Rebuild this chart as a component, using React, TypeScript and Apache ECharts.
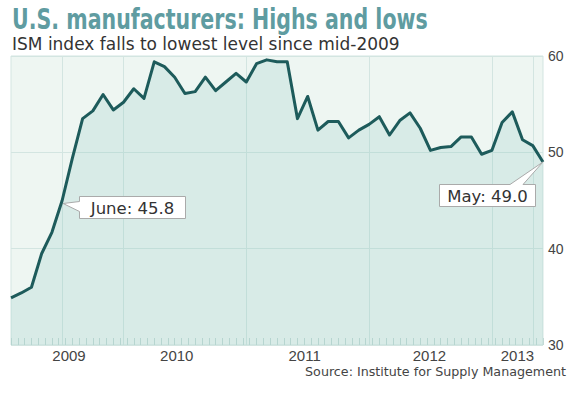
import React, { useEffect, useRef } from "react";
import * as echarts from "echarts";

// Monthly ISM index, Jan 2009 .. May 2013
const months: string[] = [
  "2009-01","2009-02","2009-03","2009-04","2009-05","2009-06","2009-07","2009-08","2009-09","2009-10","2009-11","2009-12",
  "2010-01","2010-02","2010-03","2010-04","2010-05","2010-06","2010-07","2010-08","2010-09","2010-10","2010-11","2010-12",
  "2011-01","2011-02","2011-03","2011-04","2011-05","2011-06","2011-07","2011-08","2011-09","2011-10","2011-11","2011-12",
  "2012-01","2012-02","2012-03","2012-04","2012-05","2012-06","2012-07","2012-08","2012-09","2012-10","2012-11","2012-12",
  "2013-01","2013-02","2013-03","2013-04","2013-05",
];
const ismValues: number[] = [
  34.9, 35.4, 36.0, 39.5, 41.7, 45.0, 49.4, 53.5, 54.3, 56.0, 54.4, 55.2,
  56.6, 55.6, 59.4, 58.9, 57.8, 56.1, 56.3, 57.8, 56.4, 57.3, 58.2, 57.3,
  59.2, 59.6, 59.4, 59.4, 53.5, 55.8, 52.3, 53.2, 53.2, 51.5, 52.3, 52.9,
  53.7, 51.8, 53.3, 54.1, 52.5, 50.2, 50.5, 50.6, 51.6, 51.6, 49.8, 50.2,
  53.1, 54.2, 51.3, 50.7, 49.0,
];
// Year tick labels and their positions (in month-index units along the axis)
const yearLabels: string[] = ["2009", "2010", "2011", "2012", "2013"];
const yearPositions: number[] = [5.67, 16.2, 28.7, 40.9, 49.5];
// Month indexes that carry vertical grid lines
const gridMonths: number[] = [5, 11, 23, 35, 47, 51];
const yTicks: number[] = [30, 40, 50, 60];

const callouts = [
  { index: 5, text: "June: 45.8" },
  { index: 52, text: "May: 49.0" },
];

const TITLE = "U.S. manufacturers: Highs and lows";
const SUBTITLE = "ISM index falls to lowest level since mid-2009";
const SOURCE = "Source: Institute for Supply Management";

const GRID_COLOR = "#d3e5e1";
const LABEL_FONT = "'Liberation Sans', Arial, sans-serif";
const VERDANA = "'DejaVu Sans', Verdana, sans-serif";
const TITLE_FONT = "bold 29px 'DejaVu Sans Condensed', 'DejaVu Sans', sans-serif";

function measure(text: string, font: string): number {
  const ctx = document.createElement("canvas").getContext("2d");
  if (!ctx) return 0;
  ctx.font = font;
  return ctx.measureText(text).width;
}

export default function App() {
  const ref = useRef<HTMLDivElement>(null);
  useEffect(() => {
    if (!ref.current) return;
    const chart = echarts.init(ref.current, undefined, { renderer: "svg" });
    const lastIdx = months.length - 1;
    chart.setOption({
      animation: false,
      grid: {
        left: 11,
        right: 26,
        top: 56,
        bottom: 53,
        show: true,
        backgroundColor: "#eef6f2",
        borderColor: GRID_COLOR,
        borderWidth: 1,
      },
      xAxis: [
        {
          type: "category",
          data: months,
          boundaryGap: false,
          axisLine: { show: false },
          axisTick: { show: false },
          axisLabel: { show: false },
          splitLine: {
            show: true,
            interval: (i: number) => gridMonths.includes(i),
            lineStyle: { color: GRID_COLOR, width: 1 },
          },
        },
        {
          type: "value",
          min: 0,
          max: lastIdx,
          interval: 2 / 3,
          position: "bottom",
          axisLine: { show: false },
          axisTick: { show: true, inside: true, length: 7, lineStyle: { color: "#c4dad6", width: 1 } },
          splitLine: { show: false },
          axisLabel: {
            show: true,
            customValues: yearPositions,
            margin: 3,
            fontFamily: LABEL_FONT,
            fontSize: 15,
            lineHeight: 15,
            color: "#444",
            formatter: (v: number) => {
              let best = 0;
              for (let i = 0; i < yearPositions.length; i++) {
                if (Math.abs(yearPositions[i] - v) < Math.abs(yearPositions[best] - v)) best = i;
              }
              return yearLabels[best];
            },
          },
        },
      ],
      yAxis: {
        type: "value",
        position: "right",
        min: yTicks[0],
        max: yTicks[yTicks.length - 1],
        interval: 10,
        axisLine: { show: false },
        axisTick: { show: false },
        axisLabel: { margin: 5, fontFamily: LABEL_FONT, fontSize: 14, color: "#444" },
        splitLine: { show: true, lineStyle: { color: GRID_COLOR, width: 1 } },
      },
      series: [
        {
          type: "line",
          xAxisIndex: 0,
          yAxisIndex: 0,
          data: ismValues,
          symbol: "none",
          lineStyle: { color: "#1d5b5b", width: 3, join: "round" },
          areaStyle: { color: "rgba(120,190,185,0.27)", origin: "start" },
        },
      ],
    });

    const graphics: any[] = [];
    // title, squeezed horizontally to the reference's condensed width
    const tw = measure(TITLE, TITLE_FONT) || 540;
    graphics.push({
      type: "text",
      x: 12,
      y: 4,
      scaleX: 416 / tw,
      style: { text: TITLE, font: TITLE_FONT, fill: "#5f9ca1", verticalAlign: "top" },
    });
    graphics.push({
      type: "text",
      x: 12,
      y: 35,
      style: { text: SUBTITLE, font: `17px ${VERDANA}`, fill: "#333", verticalAlign: "top" },
    });

    callouts.forEach((c) => {
      const [px, py] = chart.convertToPixel({ xAxisIndex: 0, yAxisIndex: 0 }, [c.index, ismValues[c.index]]) as number[];
      if (c.index === 5) {
        const bx = Math.round(px + 17) + 0.5;
        const by = Math.round(py - 5) + 0.5;
        const w = 106, h = 22;
        graphics.push({
          type: "polygon",
          shape: {
            points: [
              [bx, by], [bx + w, by], [bx + w, by + h], [bx, by + h],
              [bx, by + 15], [px + 1, py + 3], [bx, by + 5],
            ],
          },
          style: { fill: "#fff", stroke: "#aaa", lineWidth: 1 },
          z: 10,
        });
        graphics.push({
          type: "text",
          x: bx + w / 2,
          y: by + h / 2 + 1,
          style: { text: c.text, font: `16.5px ${VERDANA}`, fill: "#333", align: "center", verticalAlign: "middle" },
          z: 11,
        });
      } else {
        const w = 96, h = 22;
        const bx = Math.round(px - 104) + 0.5;
        const by = Math.round(py + 22) + 0.5;
        graphics.push({
          type: "polygon",
          shape: {
            points: [
              [bx, by], [px - 33, by], [px, py], [px - 20, by], [bx + w, by],
              [bx + w, by + h], [bx, by + h],
            ],
          },
          style: { fill: "#fff", stroke: "#aaa", lineWidth: 1 },
          z: 10,
        });
        graphics.push({
          type: "text",
          x: bx + w / 2,
          y: by + h / 2 + 1,
          style: { text: c.text, font: `16.5px ${VERDANA}`, fill: "#333", align: "center", verticalAlign: "middle" },
          z: 11,
        });
      }
    });
    graphics.push({
      type: "text",
      right: 3,
      top: 365,
      style: { text: SOURCE, font: `12.7px ${VERDANA}`, fill: "#444" },
    });
    chart.setOption({ graphic: graphics });

    return () => chart.dispose();
  }, []);
  return (
    <div
      ref={ref}
      style={{ position: "fixed", left: 0, top: 0, width: 569, height: 398, background: "#fff" }}
    />
  );
}
